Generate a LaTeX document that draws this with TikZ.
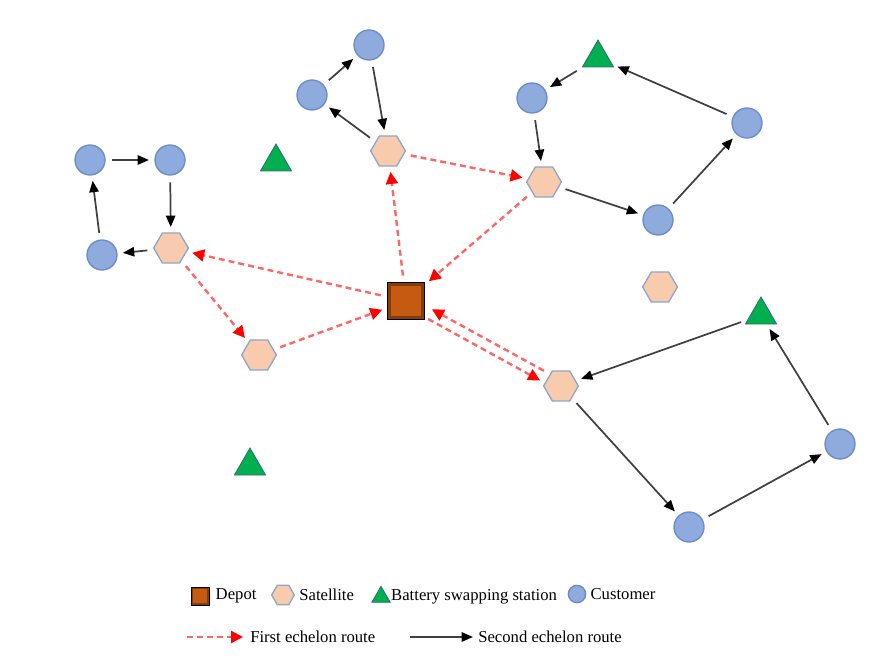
\documentclass[tikz,border=0pt]{standalone}
\usepackage{fontspec}
\setmainfont{Liberation Serif}
\usetikzlibrary{positioning,arrows.meta,shapes.geometric}
\definecolor{custfill}{HTML}{8FAADC}
\definecolor{custline}{HTML}{6A8CCB}
\definecolor{satfill}{HTML}{F8CBAD}
\definecolor{satline}{HTML}{8EA5CF}
\definecolor{bssfill}{HTML}{00B050}
\definecolor{bssline}{HTML}{2F6E6A}
\definecolor{depotfill}{HTML}{C55A11}
\definecolor{depotedge}{HTML}{843C0C}
\definecolor{routered}{HTML}{FF0000}
\definecolor{routegray}{HTML}{404040}

\begin{document}
\begin{tikzpicture}[x=0.75pt,y=-0.75pt,
      cust/.style={circle,draw=custline,fill=custfill,line width=1pt,minimum size=22.5pt,inner sep=0pt},
      sat/.style={regular polygon,regular polygon sides=6,draw=satline,fill=satfill,line width=1pt,minimum size=26pt,inner sep=0pt},
      bss/.style={regular polygon,regular polygon sides=3,draw=bssline,fill=bssfill,line width=0.6pt,minimum size=27pt,inner sep=0pt},
      depot/.style={rectangle,draw=black,fill=depotedge,line width=0.7pt,minimum size=27.5pt,inner sep=0pt,
        path picture={\fill[depotfill] ([shift={(#1,-#1)}]path picture bounding box.north west) rectangle ([shift={(-#1,#1)}]path picture bounding box.south east);}},
      depot/.default=2.5pt,
      first/.style={draw=routered!60,line width=1.8pt,dash pattern=on 4.5pt off 3pt,-{Triangle[length=9pt,width=9pt,color=routered]},shorten >=4pt,shorten <=5pt},
      second/.style={draw=routegray,line width=1.3pt,-{Triangle[length=8.5pt,width=7pt,color=black]},shorten >=4pt,shorten <=5pt},
      lbl/.style={font=\fontsize{12.5}{14}\selectfont,inner sep=0pt}]
    \useasboundingbox (0,0) rectangle (887,659);
    % depot and satellites
    \node[depot] (dep) at (406,301) {};
    \node[sat] (s1) at (388,151) {};
    \node[sat] (s2) at (544,182) {};
    \node[sat] (s3) at (171,248) {};
    \node[sat] (s4) at (259,355) {};
    \node[sat] (s5) at (561,386) {};
    \node[sat] (s6) at (660,287) {};
    % customers
    \node[cust] (c1) at (90,160) {};
    \node[cust] (c2) at (170,160) {};
    \node[cust] (c3) at (102,255) {};
    \node[cust] (c4) at (312,95) {};
    \node[cust] (c5) at (369,45) {};
    \node[cust] (c6) at (532,98) {};
    \node[cust] (c7) at (747,123) {};
    \node[cust] (c8) at (658,220) {};
    \node[cust] (c9) at (840,444) {};
    \node[cust] (c10) at (689,527) {};
    % battery swapping stations
    \node[bss] (b1) at (276,162) {};
    \node[bss] (b2) at (598,58) {};
    \node[bss] (b3) at (761,315) {};
    \node[bss] (b4) at (250,466) {};
    % second echelon
    \draw[second] (s3) -- (c3);
    \draw[second] (c3) -- (c1);
    \draw[second] (c1) -- (c2);
    \draw[second] (c2) -- (s3);
    \draw[second] (s1) -- (c4);
    \draw[second] (c4) -- (c5);
    \draw[second] (c5) -- (s1);
    \draw[second] (s2) -- (c8);
    \draw[second] (c8) -- (c7);
    \draw[second] (c7) -- (b2);
    \draw[second] (b2) -- (c6);
    \draw[second] (c6) -- (s2);
    \draw[second] (s5) -- (c10);
    \draw[second] (c10) -- (c9);
    \draw[second] (c9) -- (b3);
    \draw[second] (b3) -- (s5);
    % first echelon
    \draw[first] (dep) -- (s1);
    \draw[first] (s1) -- (s2);
    \draw[first] (s2) -- (dep);
    \draw[first] (dep) -- (s3);
    \draw[first] (s3) -- (s4);
    \draw[first] (s4) -- (dep);
    \draw[first,transform canvas={shift={(-2.5,4.5)}}] (dep) -- (s5);
    \draw[first,transform canvas={shift={(2.5,-4.5)}}] (s5) -- (dep);
    % legend
    \node[depot=1.3pt,minimum size=13.5pt] (ldep) at (200,596) {};
    \node[lbl,right=4.5pt of ldep] (ldeptxt) {Depot};
    \node[sat,minimum size=17pt] (lsat) at (283,595) {};
    \node[lbl,right=3pt of lsat] (lsattxt) {Satellite};
    \node[bss,minimum size=16pt] (lbss) at (381,597) {};
    \node[lbl,right=2.5pt of lbss] (lbsstxt) {Battery swapping station};
    \node[cust,minimum size=13pt] (lcust) at (577,594) {};
    \node[lbl,right=3pt of lcust] (lcusttxt) {Customer};
    \coordinate (lfa) at (187,637);
    \coordinate (lfb) at (243,637);
    \draw[first,shorten <=0pt,shorten >=0pt] (lfa) -- (lfb);
    \node[lbl,anchor=west] (lfirst) at (250,637) {First echelon route};
    \coordinate (lsa) at (410,637);
    \coordinate (lsb) at (473,637);
    \draw[second,shorten <=0pt,shorten >=0pt] (lsa) -- (lsb);
    \node[lbl,anchor=west] (lsecond) at (478,637) {Second echelon route};
  \end{tikzpicture}
\end{document}
